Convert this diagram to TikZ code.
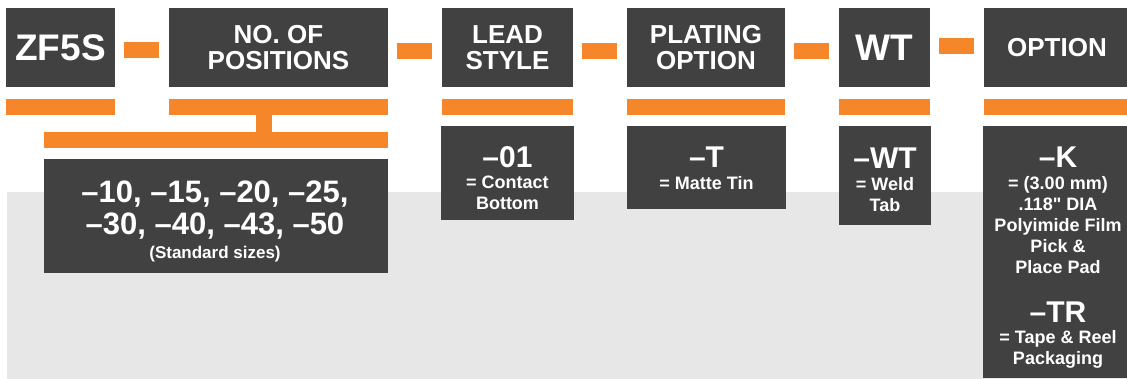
\documentclass[tikz,border=0pt]{standalone}
\usepackage{fontspec}
\setmainfont{Liberation Sans}[Ligatures=TeXOff]
\usepackage{tikz}
\definecolor{slate}{HTML}{414141}
\definecolor{orng}{HTML}{F5862A}
\definecolor{paleg}{HTML}{E6E7E6}
\newcommand{\partcode}[1]{{\fontsize{30}{30}\selectfont #1}}
\tikzset{hd/.style={fill=slate,text=white,inner sep=0pt,minimum height=79pt,align=center,font=\fontsize{26}{26}\selectfont\bfseries},
  big/.style={font=\fontsize{37}{37}\selectfont\bfseries},
  vbox/.style={fill=slate,inner sep=0pt,anchor=north},
  vtxt/.style={text=white,inner sep=0pt,anchor=north,align=center,font=\fontsize{18}{21.2}\selectfont\bfseries}}

\begin{document}
\begin{tikzpicture}[x=1pt,y=-1pt]
\useasboundingbox (0,0) rectangle (1127,379);
\fill[paleg] (7,192) rectangle (1127,379);
% field headings
\node[hd,big,minimum width=109pt] (zf) at (60.5,47.5) {ZF5S};
\node[hd,minimum width=219pt] (pos) at (278.5,47.5) {NO. OF\\POSITIONS};
\node[hd,minimum width=131pt] (lead) at (507.5,47.5) {LEAD\\STYLE};
\node[hd,minimum width=158pt] (plat) at (706,47.5) {PLATING\\OPTION};
\node[hd,big,minimum width=91pt] (wt) at (884.5,47.5) {WT};
\node[hd,minimum width=146pt] (opt) at (1057,47.5) {OPTION};
% dashes and bars
\foreach \x/\y in {124/42,397/43,582/43,794/43,939/38}{\fill[orng] (\x,\y) rectangle ++(35,16);}
\foreach \n in {zf,pos,lead,plat,wt,opt}{\fill[orng] ([yshift=-12pt]\n.south west) rectangle ([yshift=-28pt]\n.south east);}
\fill[orng] (256,115) rectangle (272,132);
\fill[orng] (44,132) rectangle (388,148);
% value boxes
\node[vbox,minimum width=344pt,minimum height=114pt] (posv) at (216,159) {};
\node[vbox,minimum width=133pt,minimum height=94pt] (leadv) at (507.5,126) {};
\node[vbox,minimum width=159pt,minimum height=83pt] (platv) at (706.5,126) {};
\node[vbox,minimum width=92pt,minimum height=99pt] (wtv) at (885,126) {};
\node[vbox,minimum width=146pt,minimum height=252pt] (optv) at (1056,126) {};
\node[vtxt,font=\fontsize{31}{32}\selectfont\bfseries] (posl) at (215,181) {–10, –15, –20, –25,\\–30, –40, –43, –50\\[-8pt]{\fontsize{17}{20}\selectfont(Standard sizes)}};
\node[vtxt] (leadl) at (507.5,146) {\partcode{–01}\\= Contact\\Bottom};
\node[vtxt] (platl) at (706.5,147) {\partcode{–T}\\= Matte Tin};
\node[vtxt] (wtl) at (885,148) {\partcode{–WT}\\= Weld\\Tab};
\node[vtxt] (optl) at (1058,147) {\partcode{–K}\\= (3.00 mm)\\.118" DIA\\Polyimide Film\\Pick \&\\Place Pad\\[27pt]\partcode{–TR}\\= Tape \& Reel\\Packaging};
\end{tikzpicture}
\end{document}
